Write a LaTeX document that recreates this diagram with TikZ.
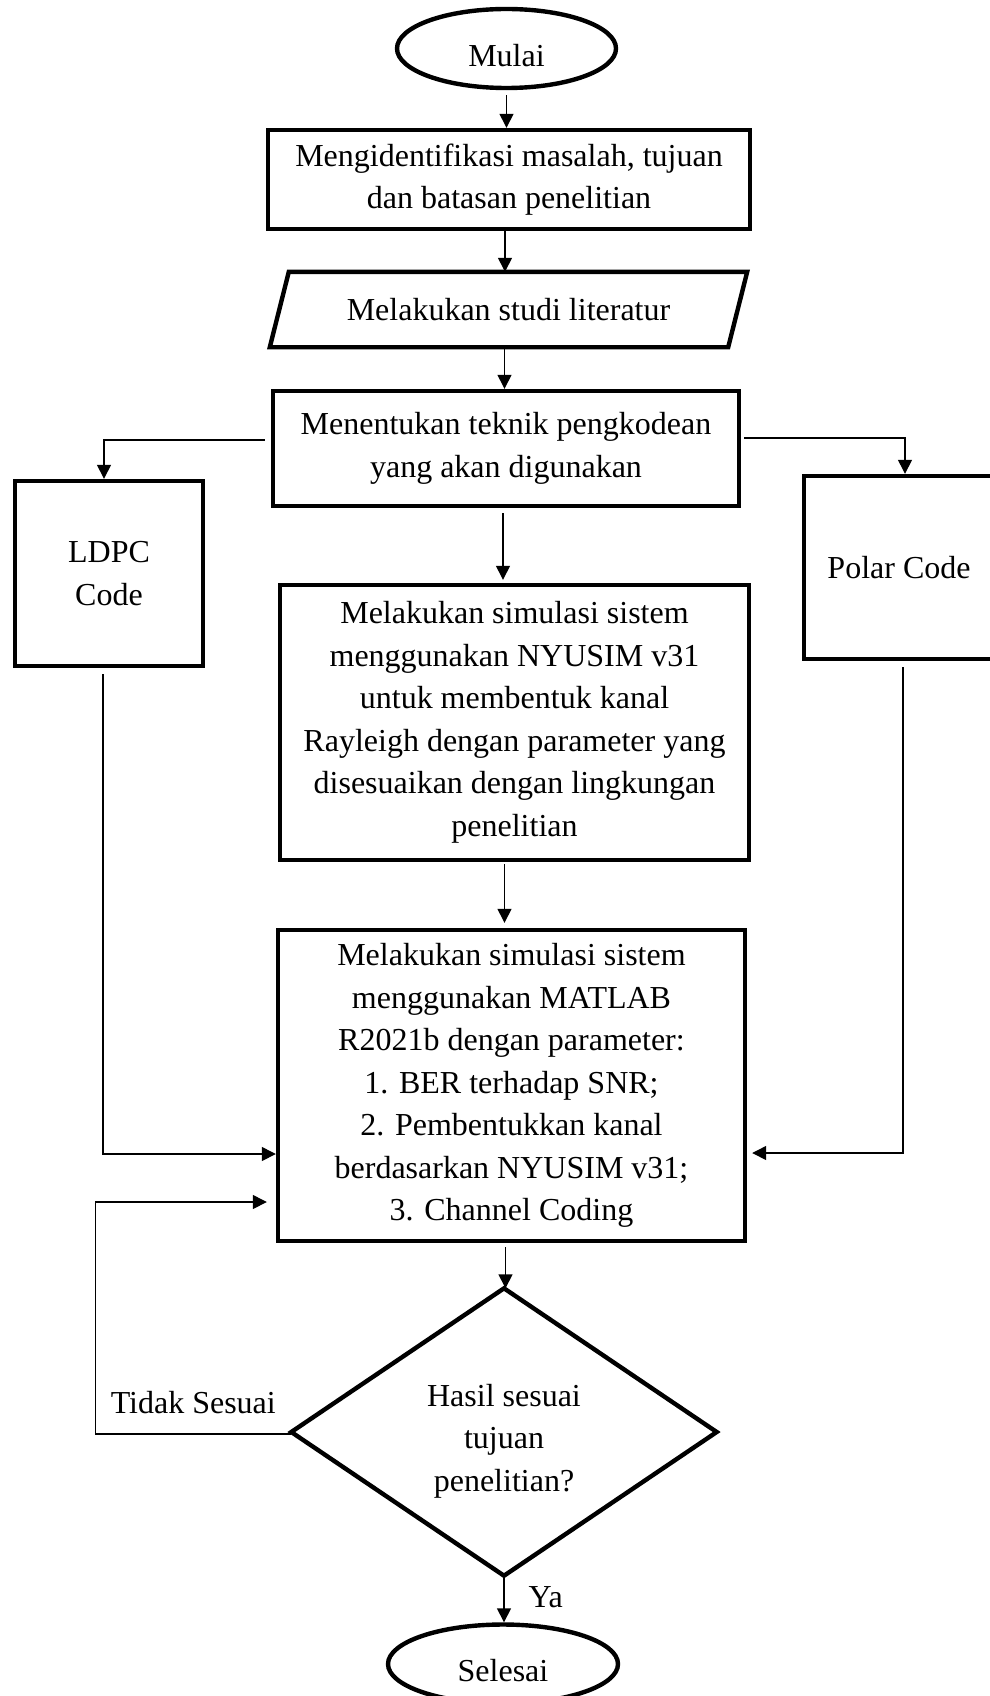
\documentclass[tikz,border=0pt]{standalone}
\usepackage{fontspec}
\setmainfont{Liberation Serif}
\usetikzlibrary{shapes.geometric,arrows.meta}
\begin{document}
\begin{tikzpicture}[x=1pt,y=-1pt,
  every node/.style={font=\fontsize{32}{42.5}\selectfont, align=center, inner sep=0pt},
  box/.style={draw, line width=4.4pt, rectangle},
  term/.style={draw, line width=4.4pt, ellipse},
  frame/.style={rectangle},
  outline/.style={line width=4.4pt, line join=miter},
  conn/.style={line width=1.4pt, -{Triangle[length=14pt,width=14pt]}},
]
\useasboundingbox (0,0) rectangle (989,1696);

% process steps
\node[term, minimum width=219, minimum height=79] (mulai) at (506.5,48.5)
  {\raisebox{-6.5pt}[\height][0pt]{Mulai}};
\node[box, minimum width=482, minimum height=99] (ident) at (509,179.5)
  {Mengidentifikasi masalah, tujuan\\dan batasan penelitian};
\node[frame, minimum width=477, minimum height=75] (studi) at (508.5,309.5)
  {Melakukan studi literatur};
\draw[outline] ([xshift=19pt]studi.north west) -- (studi.north east)
  -- ([xshift=-19pt]studi.south east) -- (studi.south west) -- cycle;
\node[box, minimum width=466, minimum height=115] (tentu) at (506,448.5)
  {Menentukan teknik pengkodean\\yang akan digunakan};
\node[box, minimum width=188, minimum height=185] (ldpc) at (109,573.5) {LDPC\\Code};
\node[box, minimum width=190, minimum height=183] (polar) at (899,567.5) {Polar Code};
\node[box, minimum width=469, minimum height=275] (simA) at (514.5,722.5)
  {Melakukan simulasi sistem\\menggunakan NYUSIM v31\\untuk membentuk kanal\\Rayleigh dengan parameter yang\\disesuaikan dengan lingkungan\\penelitian};
\node[box, minimum width=467, minimum height=311] (simB) at (511.5,1085.5)
  {Melakukan simulasi sistem\\menggunakan MATLAB\\R2021b dengan parameter:\\1. BER terhadap SNR;\\2. Pembentukkan kanal\\berdasarkan NYUSIM v31;\\3. Channel Coding};
\node[frame, minimum width=425, minimum height=287] (cek) at (504,1432) {};
\draw[outline] (cek.north) -- (cek.east) -- (cek.south) -- (cek.west) -- cycle;
\node (cektext) at ([yshift=-9pt]cek.center) {Hasil sesuai\\tujuan\\penelitian?};
\node[term, minimum width=230, minimum height=79] (selesai) at (503,1664)
  {\raisebox{-6.5pt}[\height][0pt]{Selesai}};

% connectors
\draw[conn, shorten <=5pt] (mulai.south) -- (mulai.south |- ident.north);
\draw[conn] ([xshift=-4pt]ident.south) -- ([xshift=-4pt]ident.south |- studi.north);
\draw[conn] ([xshift=-4pt]studi.south) -- ([xshift=-4pt]studi.south |- tentu.north);
\draw[conn, shorten <=6pt] ([yshift=8.5pt]tentu.west) -| ([xshift=-5pt]ldpc.north);
\draw[conn, shorten <=3pt] ([yshift=10.5pt]tentu.east) -| ([xshift=6pt]polar.north);
\draw[conn, shorten <=5pt, shorten >=3pt] ([xshift=-3pt]tentu.south) -- ([xshift=-3pt]tentu.south |- simA.north);
\draw[conn, shorten <=2pt, shorten >=5pt] ([xshift=-10pt]simA.south) -- ([xshift=-10pt]simA.south |- simB.north);
\draw[conn, shorten <=6pt] ([xshift=-6pt]ldpc.south) |- ([yshift=-68.5pt]simB.west);
\draw[conn, shorten <=6pt, shorten >=5pt] ([xshift=4pt]polar.south) |- ([yshift=-67.5pt]simB.east);
\draw[conn, shorten <=4pt] ([xshift=-6pt]simB.south) -- ([xshift=-6pt]simB.south |- cek.north);
\draw[conn, shorten >=9pt] ([yshift=-2pt]cek.west) -- ++(-196,0)
  node[midway, anchor=base, yshift=21pt] {Tidak Sesuai}
  |- ([yshift=-116.5pt]simB.west);
\draw[conn] (cek.south) -- (cek.south |- selesai.north)
  node[midway, anchor=base west, xshift=24pt, yshift=-8.5pt] {Ya};
\end{tikzpicture}
\end{document}
